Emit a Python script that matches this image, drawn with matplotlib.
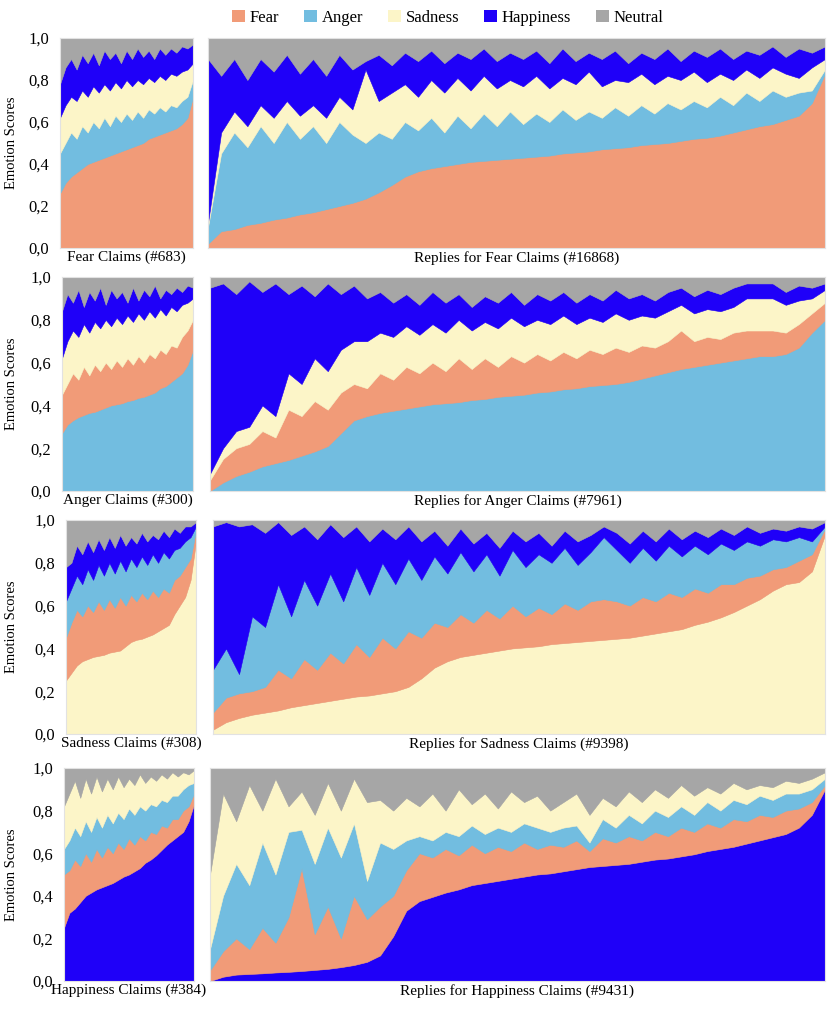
import numpy as np
import matplotlib
matplotlib.use("Agg")
import matplotlib.pyplot as plt
from matplotlib.patches import Patch
from matplotlib.ticker import FuncFormatter

plt.rcParams['font.family'] = ['Liberation Serif', 'DejaVu Serif']

emotions = ["Fear", "Anger", "Sadness", "Happiness", "Neutral"]
colors = {"Fear": "#F19B78", "Anger": "#72BDE0", "Sadness": "#FCF5C8",
          "Happiness": "#1F00F8", "Neutral": "#A6A6A6"}

# ---- Row 1: Fear claims / replies (stack: Fear, Anger, Sadness, Happiness, Neutral)
p1_fear = [0.26,0.31,0.34,0.36,0.38,0.40,0.41,0.42,0.43,0.44,0.45,0.46,0.47,0.48,0.49,0.50,0.52,0.53,0.54,0.55,0.56,0.57,0.59,0.62,0.72]
p1_anger = [0.19,0.19,0.21,0.16,0.20,0.15,0.19,0.15,0.19,0.14,0.18,0.14,0.17,0.13,0.16,0.12,0.14,0.11,0.13,0.10,0.12,0.10,0.11,0.10,0.08]
p1_sadness = [0.17,0.18,0.17,0.18,0.17,0.17,0.17,0.17,0.16,0.17,0.16,0.16,0.16,0.16,0.15,0.16,0.15,0.15,0.15,0.15,0.15,0.15,0.14,0.13,0.08]
p1_happiness = [0.16,0.18,0.18,0.15,0.17,0.16,0.16,0.13,0.16,0.15,0.14,0.12,0.14,0.13,0.15,0.13,0.13,0.11,0.13,0.12,0.12,0.11,0.12,0.10,0.09]
p1_neutral = [0.22,0.14,0.10,0.15,0.08,0.12,0.07,0.13,0.06,0.10,0.07,0.12,0.06,0.10,0.05,0.09,0.06,0.10,0.05,0.08,0.05,0.07,0.04,0.05,0.03]

p2_fear = [0.02,0.08,0.09,0.11,0.12,0.135,0.145,0.16,0.17,0.185,0.20,0.215,0.235,0.265,0.30,0.34,0.365,0.38,0.39,0.40,0.41,0.415,0.42,0.425,0.43,0.435,0.44,0.45,0.455,0.46,0.47,0.475,0.48,0.49,0.495,0.50,0.51,0.52,0.525,0.535,0.55,0.565,0.58,0.59,0.61,0.63,0.69,0.83]
p2_anger = [0.08,0.37,0.46,0.37,0.46,0.365,0.455,0.36,0.41,0.315,0.40,0.325,0.265,0.285,0.22,0.26,0.195,0.24,0.16,0.23,0.16,0.225,0.16,0.225,0.16,0.205,0.16,0.21,0.155,0.19,0.15,0.195,0.15,0.19,0.145,0.19,0.15,0.18,0.145,0.185,0.13,0.175,0.12,0.16,0.11,0.11,0.06,0.02]
p2_sadness = [0.02,0.10,0.10,0.10,0.10,0.12,0.10,0.11,0.10,0.12,0.12,0.12,0.35,0.15,0.22,0.18,0.16,0.18,0.19,0.18,0.18,0.18,0.18,0.15,0.18,0.18,0.16,0.15,0.17,0.19,0.15,0.13,0.16,0.15,0.14,0.13,0.14,0.14,0.12,0.11,0.12,0.11,0.11,0.11,0.11,0.07,0.11,0.05]
p2_happiness = [0.78,0.27,0.25,0.22,0.22,0.22,0.22,0.20,0.22,0.20,0.20,0.19,0.04,0.22,0.13,0.15,0.17,0.14,0.14,0.12,0.15,0.13,0.13,0.13,0.13,0.12,0.12,0.14,0.11,0.09,0.13,0.14,0.09,0.10,0.12,0.13,0.09,0.10,0.12,0.12,0.10,0.09,0.11,0.10,0.08,0.14,0.07,0.06]
p2_neutral = [0.10,0.18,0.10,0.20,0.10,0.16,0.08,0.17,0.10,0.18,0.08,0.15,0.11,0.08,0.13,0.07,0.11,0.06,0.12,0.07,0.10,0.05,0.11,0.07,0.10,0.06,0.12,0.05,0.11,0.07,0.10,0.06,0.12,0.07,0.10,0.05,0.11,0.06,0.09,0.05,0.10,0.06,0.08,0.04,0.09,0.05,0.07,0.04]

# ---- Row 2: Anger (stack: Anger, Fear, Sadness, Happiness, Neutral)
p3_anger = [0.27,0.31,0.33,0.345,0.355,0.365,0.37,0.38,0.39,0.40,0.405,0.41,0.42,0.425,0.435,0.44,0.45,0.46,0.48,0.49,0.51,0.53,0.55,0.59,0.66]
p3_fear = [0.18,0.19,0.22,0.175,0.225,0.175,0.22,0.18,0.21,0.17,0.205,0.17,0.20,0.165,0.195,0.16,0.19,0.16,0.18,0.15,0.17,0.14,0.17,0.16,0.14]
p3_sadness = [0.17,0.20,0.20,0.20,0.20,0.20,0.20,0.20,0.20,0.20,0.20,0.20,0.20,0.20,0.20,0.20,0.20,0.19,0.19,0.18,0.18,0.17,0.15,0.13,0.10]
p3_happiness = [0.22,0.22,0.13,0.22,0.08,0.19,0.10,0.19,0.07,0.17,0.09,0.15,0.06,0.16,0.06,0.14,0.07,0.15,0.05,0.12,0.06,0.11,0.06,0.08,0.05]
p3_neutral = [0.16,0.08,0.12,0.06,0.14,0.07,0.11,0.05,0.13,0.06,0.10,0.07,0.12,0.05,0.11,0.06,0.09,0.04,0.10,0.06,0.08,0.05,0.07,0.04,0.05]

p4_anger = [0.0,0.04,0.07,0.09,0.115,0.13,0.145,0.165,0.185,0.21,0.27,0.33,0.35,0.365,0.375,0.385,0.395,0.405,0.41,0.415,0.425,0.43,0.44,0.445,0.45,0.46,0.465,0.475,0.48,0.49,0.495,0.50,0.51,0.525,0.54,0.555,0.57,0.58,0.59,0.60,0.61,0.62,0.63,0.63,0.64,0.67,0.74,0.80]
p4_fear = [0.05,0.11,0.13,0.13,0.165,0.12,0.235,0.185,0.235,0.17,0.19,0.17,0.13,0.185,0.145,0.195,0.155,0.195,0.15,0.205,0.145,0.19,0.14,0.185,0.15,0.18,0.145,0.175,0.14,0.17,0.145,0.17,0.14,0.155,0.13,0.145,0.18,0.12,0.13,0.11,0.13,0.13,0.12,0.12,0.10,0.11,0.09,0.08]
p4_sadness = [0.03,0.05,0.08,0.08,0.12,0.10,0.17,0.15,0.20,0.18,0.20,0.20,0.22,0.19,0.20,0.19,0.18,0.18,0.18,0.18,0.18,0.17,0.18,0.18,0.17,0.16,0.17,0.17,0.16,0.15,0.15,0.16,0.15,0.14,0.14,0.14,0.12,0.13,0.13,0.13,0.12,0.15,0.15,0.15,0.13,0.11,0.07,0.06]
p4_happiness = [0.87,0.77,0.64,0.68,0.53,0.62,0.37,0.46,0.29,0.41,0.26,0.26,0.20,0.19,0.16,0.15,0.14,0.15,0.14,0.12,0.11,0.12,0.12,0.12,0.10,0.12,0.11,0.11,0.10,0.11,0.10,0.11,0.10,0.10,0.08,0.09,0.08,0.08,0.09,0.08,0.09,0.07,0.07,0.07,0.06,0.07,0.05,0.03]
p4_neutral = [0.05,0.03,0.08,0.02,0.07,0.03,0.08,0.04,0.09,0.03,0.08,0.04,0.10,0.07,0.12,0.08,0.13,0.07,0.12,0.08,0.14,0.09,0.12,0.07,0.13,0.08,0.11,0.07,0.12,0.08,0.11,0.06,0.10,0.08,0.11,0.07,0.05,0.09,0.06,0.08,0.05,0.03,0.03,0.03,0.07,0.04,0.05,0.03]

# ---- Row 3: Sadness (stack: Sadness, Fear, Anger, Happiness, Neutral)
p5_sadness = [0.25,0.285,0.32,0.34,0.35,0.36,0.365,0.37,0.38,0.385,0.39,0.41,0.43,0.44,0.445,0.455,0.465,0.48,0.495,0.51,0.56,0.60,0.64,0.72,0.90]
p5_fear = [0.20,0.235,0.26,0.21,0.25,0.21,0.255,0.21,0.25,0.205,0.25,0.19,0.22,0.18,0.215,0.175,0.205,0.16,0.185,0.15,0.16,0.14,0.14,0.10,0.05]
p5_anger = [0.17,0.16,0.16,0.15,0.17,0.15,0.17,0.16,0.17,0.16,0.17,0.16,0.17,0.16,0.17,0.16,0.17,0.16,0.17,0.16,0.14,0.13,0.12,0.10,0.02]
p5_happiness = [0.16,0.12,0.14,0.14,0.13,0.13,0.12,0.12,0.12,0.12,0.12,0.12,0.10,0.11,0.11,0.11,0.09,0.11,0.10,0.10,0.10,0.07,0.07,0.05,0.02]
p5_neutral = [0.22,0.20,0.12,0.16,0.10,0.15,0.09,0.14,0.08,0.13,0.07,0.12,0.08,0.11,0.06,0.10,0.07,0.09,0.05,0.08,0.04,0.06,0.03,0.03,0.01]

p6_sadness = [0.02,0.055,0.075,0.09,0.10,0.11,0.125,0.135,0.145,0.155,0.165,0.175,0.18,0.19,0.20,0.22,0.26,0.31,0.34,0.36,0.37,0.38,0.39,0.40,0.405,0.41,0.42,0.425,0.43,0.435,0.44,0.445,0.45,0.46,0.47,0.48,0.49,0.51,0.525,0.545,0.57,0.60,0.63,0.67,0.70,0.71,0.76,0.93]
p6_fear = [0.08,0.115,0.115,0.11,0.12,0.19,0.135,0.215,0.155,0.225,0.165,0.245,0.18,0.26,0.20,0.26,0.19,0.21,0.16,0.20,0.15,0.20,0.15,0.20,0.145,0.18,0.14,0.185,0.15,0.185,0.19,0.175,0.15,0.18,0.15,0.18,0.15,0.17,0.135,0.155,0.13,0.13,0.11,0.10,0.08,0.10,0.08,0.03]
p6_anger = [0.20,0.23,0.09,0.35,0.28,0.40,0.29,0.37,0.30,0.37,0.29,0.36,0.29,0.35,0.30,0.34,0.27,0.31,0.25,0.29,0.24,0.26,0.20,0.26,0.23,0.25,0.24,0.26,0.21,0.23,0.29,0.24,0.20,0.23,0.19,0.22,0.19,0.20,0.18,0.19,0.16,0.17,0.14,0.14,0.12,0.11,0.06,0.01]
p6_happiness = [0.67,0.59,0.69,0.43,0.44,0.29,0.38,0.25,0.31,0.23,0.30,0.19,0.25,0.16,0.21,0.15,0.18,0.12,0.13,0.11,0.13,0.10,0.13,0.09,0.12,0.10,0.08,0.08,0.11,0.08,0.05,0.08,0.09,0.08,0.09,0.08,0.08,0.07,0.08,0.07,0.07,0.07,0.06,0.05,0.05,0.05,0.06,0.02]
p6_neutral = [0.03,0.01,0.03,0.02,0.06,0.01,0.07,0.03,0.09,0.02,0.08,0.03,0.10,0.04,0.09,0.03,0.10,0.05,0.12,0.04,0.11,0.06,0.13,0.05,0.10,0.06,0.12,0.05,0.10,0.07,0.03,0.06,0.11,0.05,0.10,0.04,0.09,0.05,0.08,0.04,0.07,0.03,0.06,0.04,0.05,0.03,0.04,0.01]

# ---- Row 4: Happiness (stack: Happiness, Fear, Anger, Sadness, Neutral)
p7_happiness = [0.25,0.32,0.34,0.37,0.40,0.415,0.43,0.44,0.45,0.46,0.475,0.49,0.50,0.515,0.53,0.555,0.57,0.59,0.615,0.64,0.66,0.68,0.70,0.75,0.83]
p7_fear = [0.25,0.20,0.23,0.17,0.20,0.145,0.19,0.14,0.18,0.14,0.175,0.13,0.17,0.125,0.15,0.105,0.13,0.10,0.115,0.08,0.10,0.08,0.10,0.07,0.05]
p7_anger = [0.12,0.14,0.15,0.14,0.15,0.14,0.15,0.14,0.15,0.14,0.14,0.14,0.14,0.14,0.14,0.14,0.13,0.13,0.12,0.12,0.11,0.11,0.10,0.10,0.05]
p7_sadness = [0.20,0.22,0.22,0.18,0.20,0.18,0.19,0.17,0.17,0.16,0.17,0.15,0.14,0.14,0.15,0.13,0.13,0.12,0.12,0.11,0.11,0.09,0.08,0.05,0.06]
p7_neutral = [0.18,0.12,0.06,0.14,0.05,0.12,0.04,0.11,0.05,0.10,0.04,0.09,0.05,0.08,0.03,0.07,0.04,0.06,0.03,0.05,0.02,0.04,0.02,0.03,0.01]

p8_happiness = [0.00,0.02,0.03,0.033,0.036,0.04,0.043,0.047,0.052,0.057,0.065,0.075,0.09,0.12,0.21,0.33,0.375,0.395,0.415,0.43,0.45,0.46,0.47,0.48,0.49,0.50,0.505,0.515,0.525,0.535,0.54,0.545,0.55,0.56,0.57,0.575,0.585,0.595,0.61,0.62,0.63,0.645,0.66,0.675,0.69,0.72,0.78,0.90]
p8_fear = [0.05,0.12,0.17,0.117,0.214,0.14,0.257,0.483,0.168,0.293,0.135,0.325,0.20,0.23,0.19,0.19,0.225,0.185,0.205,0.16,0.19,0.14,0.16,0.13,0.16,0.12,0.135,0.115,0.135,0.075,0.13,0.105,0.13,0.10,0.13,0.105,0.135,0.105,0.13,0.10,0.13,0.105,0.12,0.095,0.11,0.09,0.06,0.02]
p8_anger = [0.10,0.26,0.35,0.30,0.40,0.32,0.40,0.18,0.33,0.37,0.38,0.34,0.18,0.30,0.22,0.14,0.08,0.08,0.08,0.09,0.09,0.09,0.09,0.09,0.09,0.10,0.06,0.09,0.07,0.04,0.09,0.07,0.10,0.08,0.10,0.09,0.10,0.08,0.10,0.08,0.09,0.08,0.09,0.08,0.08,0.07,0.06,0.03]
p8_sadness = [0.35,0.48,0.20,0.47,0.15,0.45,0.12,0.18,0.23,0.21,0.22,0.21,0.37,0.20,0.18,0.20,0.14,0.22,0.10,0.22,0.10,0.19,0.09,0.19,0.10,0.15,0.10,0.12,0.15,0.13,0.10,0.10,0.11,0.10,0.10,0.09,0.10,0.09,0.07,0.08,0.08,0.07,0.05,0.06,0.06,0.05,0.05,0.03]
p8_neutral = [0.50,0.12,0.25,0.08,0.20,0.05,0.18,0.11,0.22,0.07,0.20,0.05,0.16,0.15,0.20,0.14,0.18,0.12,0.20,0.10,0.17,0.12,0.19,0.11,0.16,0.13,0.20,0.16,0.12,0.22,0.14,0.18,0.11,0.16,0.10,0.14,0.08,0.13,0.09,0.12,0.07,0.10,0.08,0.09,0.06,0.07,0.05,0.02]

labels = ["Fear Claims (#683)", "Replies for Fear Claims (#16868)",
          "Anger Claims (#300)", "Replies for Anger Claims (#7961)",
          "Sadness Claims (#308)", "Replies for Sadness Claims (#9398)",
          "Happiness Claims (#384)", "Replies for Happiness Claims (#9431)"]

panels = [
    (["Fear", "Anger", "Sadness", "Happiness", "Neutral"], [p1_fear, p1_anger, p1_sadness, p1_happiness, p1_neutral]),
    (["Fear", "Anger", "Sadness", "Happiness", "Neutral"], [p2_fear, p2_anger, p2_sadness, p2_happiness, p2_neutral]),
    (["Anger", "Fear", "Sadness", "Happiness", "Neutral"], [p3_anger, p3_fear, p3_sadness, p3_happiness, p3_neutral]),
    (["Anger", "Fear", "Sadness", "Happiness", "Neutral"], [p4_anger, p4_fear, p4_sadness, p4_happiness, p4_neutral]),
    (["Sadness", "Fear", "Anger", "Happiness", "Neutral"], [p5_sadness, p5_fear, p5_anger, p5_happiness, p5_neutral]),
    (["Sadness", "Fear", "Anger", "Happiness", "Neutral"], [p6_sadness, p6_fear, p6_anger, p6_happiness, p6_neutral]),
    (["Happiness", "Fear", "Anger", "Sadness", "Neutral"], [p7_happiness, p7_fear, p7_anger, p7_sadness, p7_neutral]),
    (["Happiness", "Fear", "Anger", "Sadness", "Neutral"], [p8_happiness, p8_fear, p8_anger, p8_sadness, p8_neutral]),
]

W, H = 830, 1009
fig = plt.figure(figsize=(W / 100, H / 100), dpi=100)

# pixel boxes (left, top, right, bottom)
boxes = [
    (60, 38, 193, 248), (208, 38, 825, 248),
    (62, 277, 193, 491), (210, 277, 825, 491),
    (66, 520, 196, 734), (213, 520, 825, 734),
    (64, 768, 194, 981), (210, 768, 825, 981),
]

fmt = FuncFormatter(lambda v, p: f"{v:.1f}".replace(".", ","))

for i, ((order, series), (l, t, r, b), lab) in enumerate(zip(panels, boxes, labels)):
    ax = fig.add_axes([l / W, 1 - b / H, (r - l) / W, (b - t) / H])
    ax.set_facecolor(colors["Neutral"])
    x = np.arange(len(series[0]))
    polys = ax.stackplot(x, *[np.array(s) for s in series],
                         colors=[colors[e] for e in order], linewidth=0)
    for poly, e in zip(polys, order):
        poly.set_edgecolor(colors[e])
        poly.set_linewidth(0.4)
    ax.set_xlim(0, len(x) - 1)
    ax.set_ylim(0, 1)
    ax.set_xticks([])
    for s in ax.spines.values():
        s.set_color("#E2E2E2")
        s.set_linewidth(0.8)
    ax.set_xlabel(lab, fontsize=11, labelpad=2)
    if i % 2 == 0:
        ax.set_yticks(np.arange(0, 1.01, 0.2))
        ax.yaxis.set_major_formatter(fmt)
        ax.tick_params(axis="y", length=0, pad=8, labelsize=12)
        ax.set_ylabel("Emotion Scores", fontsize=10.5)
        ax.yaxis.set_label_coords((18 - l) / (r - l), 0.5)
    else:
        ax.set_yticks([])

handles = [Patch(facecolor=colors[e], edgecolor="none", label=e) for e in emotions]
fig.legend(handles=handles, loc="center", bbox_to_anchor=(448 / W, 1 - 18 / H), ncol=5,
           frameon=False, fontsize=12, handlelength=0.75, handleheight=0.75,
           handletextpad=0.3, columnspacing=1.5)

fig.savefig("out.png", dpi=100)
